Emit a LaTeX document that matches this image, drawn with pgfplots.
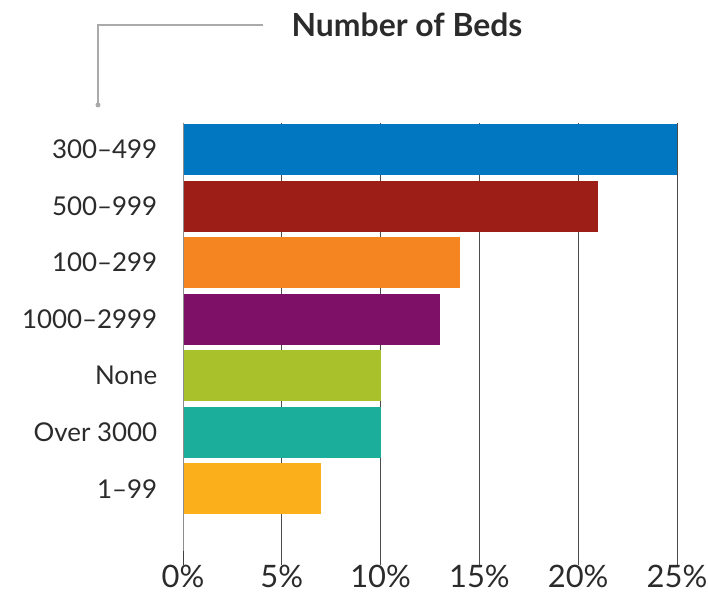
\documentclass[border=0pt]{standalone}
\usepackage{pgfplots}
\pgfplotsset{compat=1.18}
\usepackage{fontspec}
\setmainfont{Lato}

\definecolor{cBlue}{HTML}{0077C0}
\definecolor{cRed}{HTML}{9D1E17}
\definecolor{cOrange}{HTML}{F58520}
\definecolor{cPurple}{HTML}{7F1067}
\definecolor{cLime}{HTML}{A9C12A}
\definecolor{cTeal}{HTML}{1BAE9A}
\definecolor{cGold}{HTML}{FBAF1B}
\definecolor{cText}{HTML}{2B2B2B}
\definecolor{cLine}{HTML}{AAAAAA}

\begin{document}
\begin{tikzpicture}[x=1bp,y=1bp]
\useasboundingbox (0,0) rectangle (708,600);

% title with the little connector
\draw[cLine, line width=1.3bp] (263,575) -- (98,575) -- (98,495);
\fill[cLine] (98,495) circle (2.5bp);
\node[anchor=center, text=cText, font=\bfseries\fontsize{32}{36}\selectfont] at (407,575) {Number of Beds};

\begin{axis}[
  at={(183bp,35bp)}, anchor=south west,
  scale only axis, width=494bp, height=442bp,
  xbar, bar width=51bp, bar shift=0pt,
  xmin=0, xmax=25, ymin=-0.47, ymax=7.35,
  y dir=reverse,
  axis line style={draw=none},
  tick style={draw=none},
  xtick={0,5,10,15,20,25},
  xticklabels={0\%,5\%,10\%,15\%,20\%,25\%},
  ytick={0,1,2,3,4,5,6},
  yticklabels={300--499,500--999,100--299,1000--2999,None,Over 3000,1--99},
  xmajorgrids,
  major grid style={draw=black!70, line width=1bp},
  yticklabel style={font=\fontsize{26}{30}\selectfont, text=cText, xshift=-18bp},
  xticklabel style={font=\fontsize{31}{34}\selectfont, text=cText, yshift=3bp},
]
\addplot[fill=cBlue,   draw=none] coordinates {(25,0)};
\addplot[fill=cRed,    draw=none] coordinates {(21,1)};
\addplot[fill=cOrange, draw=none] coordinates {(14,2)};
\addplot[fill=cPurple, draw=none] coordinates {(13,3)};
\addplot[fill=cLime,   draw=none] coordinates {(10,4)};
\addplot[fill=cTeal,   draw=none] coordinates {(10,5)};
\addplot[fill=cGold,   draw=none] coordinates {(7,6)};
\draw[black!45, line width=1.5bp] (axis cs:0,-0.47) -- (axis cs:0,7.35);
\draw[black!75, line width=1.5bp] (axis cs:0,7.1) -- (axis cs:0,7.35);
\end{axis}
\end{tikzpicture}
\end{document}
